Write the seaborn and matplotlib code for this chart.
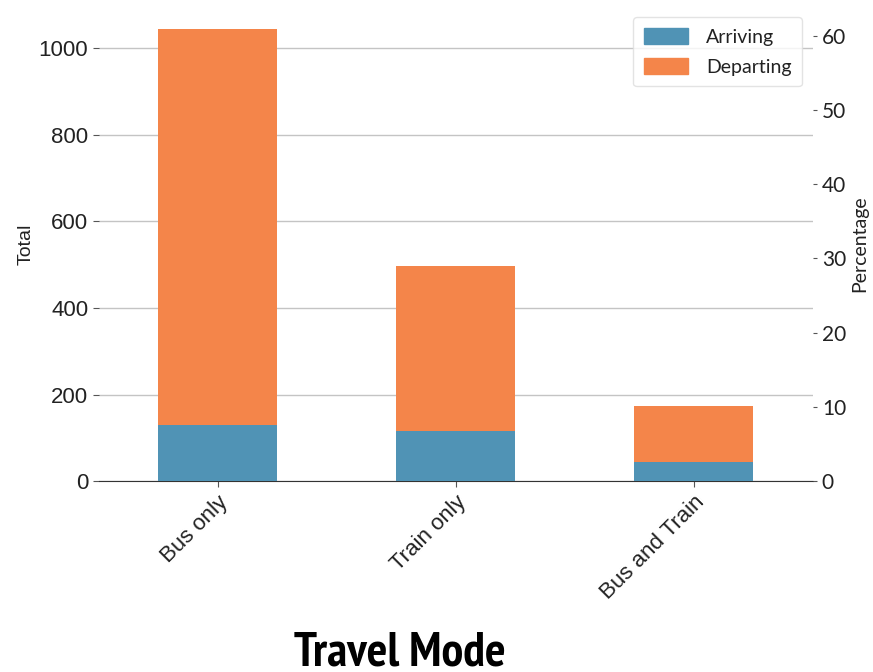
import numpy as np
import pandas as pd
import seaborn as sns
import matplotlib.pyplot as plt
from matplotlib.patches import Patch

# Datos
modos = ['Bus only', 'Train only', 'Bus and Train']
llegando = [130, 116, 45]
saliendo = [914, 382, 129]

color_llegando = '#5093B5'
color_saliendo = '#F4854A'

df = pd.DataFrame({'modo': modos, 'Arriving': llegando, 'Departing': saliendo})
df['total'] = df['Arriving'] + df['Departing']
gran_total = df['total'].sum()

sns.set_style('white')
fuente_izq = ['Liberation Sans', 'DejaVu Sans']
fuente_der = ['Lato', 'DejaVu Sans']
fuente_titulo = ['PT Sans Narrow', 'Fjalla One', 'Liberation Sans', 'DejaVu Sans']
plt.rcParams['font.family'] = fuente_izq

fig = plt.figure(figsize=(8.73, 6.72), dpi=100)
ax = fig.add_axes([0.113, 0.284, 0.818, 0.706])

# barras apiladas: total (naranja) y encima la parte de llegada (azul)
sns.barplot(data=df, x='modo', y='total', color=color_saliendo, width=0.5,
            saturation=1, linewidth=0, ax=ax, zorder=3)
sns.barplot(data=df, x='modo', y='Arriving', color=color_llegando, width=0.5,
            saturation=1, linewidth=0, ax=ax, zorder=3)

ax.set_xlim(-0.5, 2.5)
ymax = df['total'].max() * 1.05
ax.set_ylim(0, ymax)
ax.set_yticks([0, 200, 400, 600, 800, 1000])
ax.yaxis.grid(True, color='#c4c4c4', linewidth=1, zorder=0)
ax.set_axisbelow(True)
for lado in ['top', 'right', 'left']:
    ax.spines[lado].set_visible(False)
ax.spines['bottom'].set_color('#333333')
ax.tick_params(axis='y', left=True, length=4, width=0.8, color='#555555',
               labelsize=16, colors='#222222')
ax.tick_params(axis='x', bottom=True, length=4, width=0.8, color='#555555')
ax.set_xticks(range(len(modos)))
ax.set_xticklabels(modos, rotation=45, ha='right', fontsize=16,
                   rotation_mode='anchor', color='#222222')
for t in ax.get_yticklabels() + ax.get_xticklabels():
    t.set_family(fuente_izq)
ax.set_xlabel('')
ax.set_ylabel('Total', fontsize=14, labelpad=3, family=fuente_izq,
              color='#222222')

# eje derecho en porcentaje
ax2 = ax.twinx()
ax2.set_ylim(0, ymax / gran_total * 100)
ax2.set_yticks([0, 10, 20, 30, 40, 50, 60])
for lado in ['top', 'right', 'left', 'bottom']:
    ax2.spines[lado].set_visible(False)
ax2.tick_params(axis='y', right=True, length=3, width=0.8, color='#555555',
                labelsize=15, colors='#222222')
for t in ax2.get_yticklabels():
    t.set_family(fuente_der)
ax2.set_ylabel('Percentage', fontsize=14, family=fuente_der, labelpad=4,
               color='#222222')

handles = [Patch(color=color_llegando, label='Arriving'),
           Patch(color=color_saliendo, label='Departing')]
leg = ax2.legend(handles=handles, loc='upper right',
                 prop={'family': fuente_der, 'size': 14},
                 frameon=True, handlelength=2.3, handleheight=0.85,
                 handletextpad=0.9, labelspacing=0.65, borderpad=0.55,
                 borderaxespad=0.55)
leg.get_frame().set_edgecolor('#dddddd')
for t in leg.get_texts():
    t.set_color('#222222')

fig.text(400 / 873, 1 - 665 / 672, 'Travel Mode', ha='center', va='baseline',
         fontsize=35, fontweight='bold', color='black', family=fuente_titulo)

plt.savefig('out.png', dpi=100)
